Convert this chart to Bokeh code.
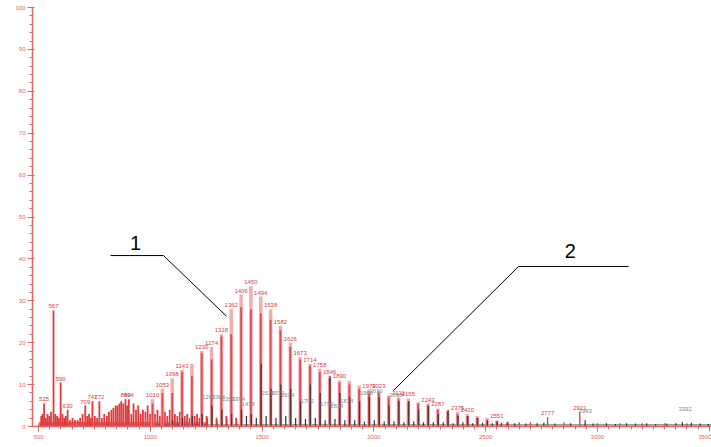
from bokeh.plotting import figure
from bokeh.models import Range1d, Label, ColumnDataSource, FixedTicker
from bokeh.embed import file_html
from bokeh.resources import INLINE
from bokeh.core.properties import value

# ---- series 1 (red): main charge-envelope peaks ----
main_mz = [1010, 1054, 1098, 1142, 1186, 1230, 1274, 1318, 1362, 1406, 1450, 1494,
           1538, 1582, 1626, 1670, 1714, 1758, 1802, 1846, 1890, 1934, 1978, 2022,
           2066, 2110, 2154, 2198, 2242, 2286, 2330, 2374, 2418, 2462, 2506, 2550]
main_outer = [6.5, 9.0, 11.5, 13.5, 15.0, 18.0, 19.0, 22.0, 28.0, 31.5, 33.5, 31.0,
              28.0, 24.0, 20.0, 16.5, 15.0, 13.8, 12.0, 11.0, 11.0, 9.8, 8.8, 8.6,
              7.4, 7.0, 6.7, 5.8, 5.4, 4.3, 3.8, 3.5, 3.0, 2.5, 2.0, 1.5]
main_core = [5.5, 8.0, 8.0, 13.0, 12.0, 17.5, 16.0, 21.5, 22.0, 28.5, 28.0, 27.0,
             25.5, 23.0, 19.0, 16.0, 14.5, 13.0, 11.5, 10.5, 10.0, 9.0, 8.0, 8.0,
             7.0, 6.5, 6.0, 5.5, 5.0, 4.0, 3.5, 3.0, 2.5, 2.0, 1.5, 1.2]
main_labels = ["1010", "1053", "1098", "1143", "", "1230", "1274", "1318", "1362", "1406",
               "1450", "1494", "1538", "1582", "1626", "1673", "1714", "1758", "1846",
               "1890", "", "", "1979", "2023", "", "2111", "2155", "", "2243", "2287",
               "", "2375", "2420", "", "", "2551"]

# ---- series 1 (red): low-mass peaks ----
low_mz = [512, 518, 525, 532, 540, 548, 556, 567, 575, 583, 591, 599, 607, 615, 622,
          630, 641, 652, 663, 675, 686, 697, 709, 718, 726, 734, 741, 752, 762, 772,
          783, 794, 806, 815, 826, 835, 845, 853, 862, 870, 879, 889, 896, 904, 915,
          925, 936, 946, 957, 967, 978, 988, 999, 1021, 1032, 1043, 1065, 1076, 1087,
          1110, 1121, 1132, 1154, 1165, 1176, 1198, 1209, 1220, 1252, 1296, 1340, 1384]
low_h = [2.5, 3.0, 5.5, 2.0, 3.0, 2.5, 3.5, 27.7, 3.0, 2.5, 2.0, 10.5, 3.0, 2.0, 2.5,
         4.0, 1.5, 2.0, 1.5, 1.5, 2.0, 3.0, 5.0, 2.5, 3.0, 2.0, 6.0, 2.5, 2.0, 6.0,
         2.0, 3.0, 2.5, 3.5, 4.0, 4.5, 5.0, 5.0, 5.5, 6.0, 5.5, 6.5, 5.0, 6.5, 3.0,
         5.5, 4.0, 5.0, 3.0, 4.0, 3.5, 5.0, 3.0, 3.0, 4.0, 2.5, 3.5, 2.5, 4.0,
         3.0, 2.5, 3.5, 2.5, 3.0, 2.0, 2.5, 3.0, 2.0, 2.5, 2.0, 2.5, 2.0]
low_lbl_mz = [525, 567, 599, 630, 709, 741, 772, 889, 904]
low_lbl_h = [5.5, 27.7, 10.5, 4.0, 5.0, 6.0, 6.0, 6.5, 6.5]
low_lbl_txt = ["525", "567", "599", "630", "709", "741", "772", "889", "904"]

# ---- series 1 (red): isolated high-mass peaks ----
hi_mz = [2600, 2650, 2700, 2777, 2850, 2921, 3000, 3100, 3200, 3300, 3400]
hi_h = [1.2, 1.0, 1.0, 2.2, 1.0, 3.5, 0.8, 0.8, 0.8, 0.8, 0.8]
hi_lbl_mz = [2777, 2921]
hi_lbl_h = [2.2, 3.5]
hi_lbl_txt = ["2777", "2921"]

# ---- series 2 (black) ----
blk_mz = [1100, 1144, 1188, 1232, 1276, 1320, 1364, 1408, 1452, 1496, 1540, 1584,
          1628, 1672, 1716, 1760, 1804, 1848, 1892, 1936, 1980, 2024, 2068, 2112,
          2156, 2200, 2244, 2288, 2332, 2376, 2420, 2464, 2508, 2552, 2596]
blk_h = [1.5, 2.0, 2.5, 3.0, 5.0, 4.0, 3.0, 4.0, 3.0, 15.0, 9.0, 10.0,
         9.0, 6.0, 10.0, 8.0, 12.0, 8.0, 7.0, 6.0, 7.0, 7.0, 5.0, 6.0,
         6.0, 4.0, 5.0, 3.0, 4.0, 2.5, 2.5, 2.0, 1.5, 1.2, 1.0]
blk_small_mz = [1122, 1166, 1210, 1254, 1298, 1342, 1386, 1430, 1474, 1518, 1562,
                1606, 1650, 1694, 1738, 1782, 1826, 1870, 1914, 1958, 2002, 2046,
                2090, 2134, 2178, 2222, 2266, 2310, 2354, 2398, 2442, 2486, 2530,
                2570, 2630, 2680, 2730, 2760, 2810, 2880, 2945, 2980, 3040, 3080,
                3130, 3170, 3220, 3260, 3310, 3350, 3380, 3420, 3460, 3495]
blk_small_h = [1.0, 1.5, 1.2, 2.0, 1.5, 2.0, 1.8, 2.5, 2.0, 2.5, 2.0,
               2.5, 2.0, 1.8, 2.0, 1.5, 1.8, 1.5, 1.5, 1.2, 1.5, 1.2,
               1.2, 1.0, 1.2, 1.0, 1.0, 1.0, 0.8, 1.0, 0.8, 0.9, 0.8,
               0.9, 0.8, 0.7, 0.8, 0.9, 0.7, 0.8, 1.5, 0.7, 0.8, 0.6,
               0.8, 0.7, 0.8, 0.6, 0.7, 0.8, 1.0, 0.9, 0.7, 0.6]
grey_lbl_mz = [1262, 1306, 1350, 1394, 1438, 1526, 1570, 1614, 1702, 1790, 1834,
               1878, 1966, 2010, 2098, 2945, 3392]
grey_lbl_h = [6.5, 6.5, 6.0, 6.0, 5.0, 7.5, 7.5, 7.0, 5.5, 5.0, 4.5,
              5.5, 7.5, 8.0, 7.0, 3.2, 3.8]
grey_lbl_txt = ["1262", "1306", "1350", "1394", "1438", "1526", "1570", "1614",
                "1702", "1790", "1834", "1878", "1966", "2010", "2098", "2943", "3392"]

# ---- axis ticks ----
x_ticks = [500, 1000, 1500, 2000, 2500, 3000, 3500]
y_ticks = [0, 10, 20, 30, 40, 50, 60, 70, 80, 90, 100]
x_minor = list(range(500, 3501, 50))
y_minor = list(range(0, 101, 2))

# ---- callouts ----
call1_x = [822, 1059, 1341]
call1_y = [40.8, 40.8, 26.3]
call1_txt_xy = (934, 43.8)
call2_x = [3139, 2647, 2088]
call2_y = [38.2, 38.2, 8.6]
call2_txt_xy = (2879, 41.8)

RED = "#e0393e"
PINK = "#f2a3a6"
AXC = "#e06666"

p = figure(width=711, height=447, output_backend="svg", toolbar_location=None,
           x_range=Range1d(473, 3510), y_range=Range1d(0, 100),
           min_border_left=32, min_border_right=0, min_border_top=7, min_border_bottom=21)
p.outline_line_color = None
p.xgrid.visible = False
p.ygrid.visible = False
p.background_fill_color = "white"

for ax in (p.xaxis, p.yaxis):
    ax.axis_line_color = AXC
    ax.major_tick_line_color = AXC
    ax.minor_tick_line_color = AXC
    ax.major_label_text_color = AXC
    ax.major_label_text_font_size = "6px"
    ax.major_label_text_font = "Liberation Sans"
    ax.axis_line_width = 1.5
p.xaxis.ticker = FixedTicker(ticks=x_ticks, minor_ticks=x_minor)
p.yaxis.ticker = FixedTicker(ticks=y_ticks, minor_ticks=y_minor)
p.xaxis.major_tick_out = 5
p.xaxis.major_tick_in = 2
p.xaxis.minor_tick_out = 3
p.xaxis.minor_tick_in = 1
p.yaxis.major_tick_out = 5
p.yaxis.minor_tick_out = 3
p.xaxis.major_label_standoff = 3
p.yaxis.major_label_standoff = 2

p.add_layout(Label(x=2000, y=-21, y_units="screen", text="Mass/Charge",
                   text_font="Liberation Sans", text_font_size="5px",
                   text_color="#555555", text_align="center", text_baseline="bottom"))

# baseline noise band
p.segment(x0=[500], y0=[0.6], x1=[1250], y1=[0.6], line_color=RED, line_width=4, alpha=0.7)
p.segment(x0=[1000], y0=[0.4], x1=[3510], y1=[0.4], line_color="#444444", line_width=1.2, alpha=0.7)

# series 2 small black
p.segment(x0=blk_small_mz, y0=0, x1=blk_small_mz, y1=blk_small_h, line_color="#333333", line_width=1.2)

# series 1 red
p.segment(x0=low_mz, y0=0, x1=low_mz, y1=low_h, line_color=RED, line_width=1.8)
p.segment(x0=main_mz, y0=0, x1=main_mz, y1=main_outer, line_color=PINK, line_width=3.5, alpha=0.9)
p.segment(x0=main_mz, y0=0, x1=main_mz, y1=main_core, line_color=RED, line_width=1.8, alpha=0.85)
p.segment(x0=hi_mz, y0=0, x1=hi_mz, y1=hi_h, line_color=RED, line_width=1.3)

# series 2 black peaks
p.segment(x0=blk_mz, y0=0, x1=blk_mz, y1=blk_h, line_color="#2a2a2a", line_width=1.4, alpha=0.75)

# labels
lab_src = ColumnDataSource(dict(x=[m for m, t in zip(main_mz, main_labels) if t] + low_lbl_mz + hi_lbl_mz,
                                y=[h for h, t in zip(main_outer, main_labels) if t] + low_lbl_h + hi_lbl_h,
                                t=[t for t in main_labels if t] + low_lbl_txt + hi_lbl_txt))
p.text(x="x", y="y", text="t", source=lab_src, text_font=value("Liberation Sans"),
       text_font_size="6px", text_color=RED, text_align="center", text_baseline="bottom",
       y_offset=-2)
g_src = ColumnDataSource(dict(x=grey_lbl_mz, y=grey_lbl_h, t=grey_lbl_txt))
p.text(x="x", y="y", text="t", source=g_src, text_font=value("Liberation Sans"),
       text_font_size="6px", text_color="#888888", text_align="center", text_baseline="bottom")

# callouts
p.line(call1_x, call1_y, line_color="black", line_width=1)
p.line(call2_x, call2_y, line_color="black", line_width=1)
p.text(x=[call1_txt_xy[0], call2_txt_xy[0]], y=[call1_txt_xy[1], call2_txt_xy[1]], text=["1", "2"],
       text_font=value("Liberation Sans"), text_font_size="20px", text_color="black",
       text_align="center", text_baseline="middle")

open("out.html", "w").write(file_html(p, INLINE))
